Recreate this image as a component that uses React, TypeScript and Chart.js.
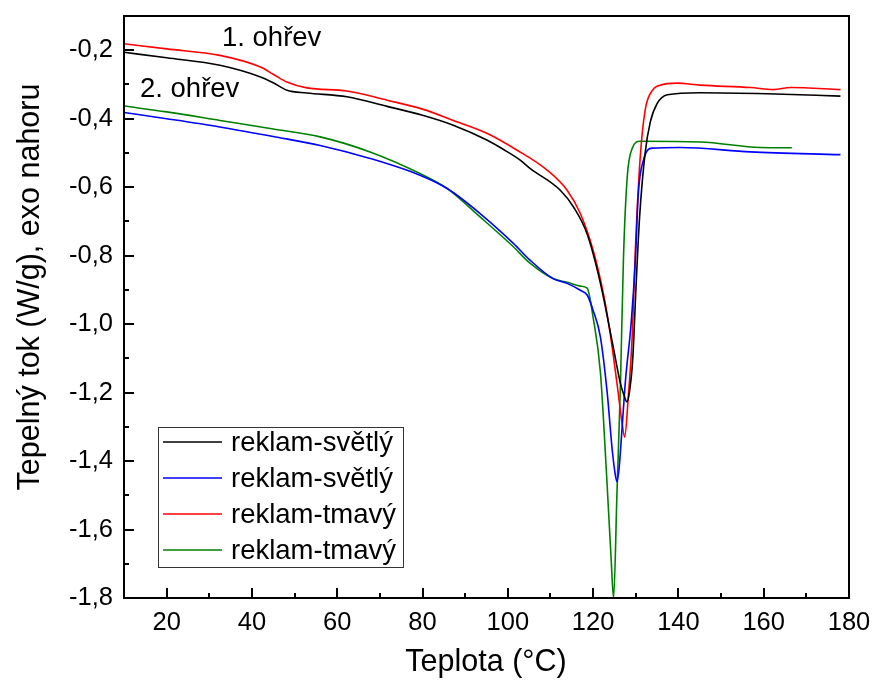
import React, { useEffect, useRef } from 'react';
import { Chart, registerables } from 'chart.js';
Chart.register(...registerables);

const SERIES_LABELS = ['reklam-světlý', 'reklam-světlý', 'reklam-tmavý', 'reklam-tmavý'];
const SERIES_COLORS = ['#000000', '#0000ff', '#ff0000', '#008000'];

// 1. ohřev, reklam-světlý (black)
const BLACK_X = [10, 20, 32.5, 42, 45, 48.2, 52.9, 62.3, 71.7, 80, 87.2, 95.2, 99, 102.9, 105.2, 112.3, 115.4, 118.6, 121.7, 124.7, 126.4, 127.3, 127.9, 128.5, 129.3, 130.1, 130.9, 132.2, 133.4, 135, 137.4, 145, 160.8, 178];
const BLACK_Y = [-0.206, -0.222, -0.244, -0.278, -0.295, -0.317, -0.325, -0.336, -0.364, -0.39, -0.419, -0.463, -0.49, -0.521, -0.545, -0.609, -0.658, -0.737, -0.88, -1.066, -1.173, -1.21, -1.227, -1.2, -1.1, -0.88, -0.687, -0.5, -0.41, -0.356, -0.33, -0.324, -0.327, -0.334];

// 2. ohřev, reklam-světlý (blue)
const BLUE_X = [10, 20, 32.5, 45, 56, 67.7, 79.4, 85.8, 93.5, 101.3, 105.2, 110.6, 113.9, 117, 118.6, 120, 121.7, 123.3, 124.5, 125.2, 125.6, 126.1, 126.7, 127.6, 128.9, 129.9, 130.6, 131.8, 133.9, 140.4, 156.9, 178];
const BLUE_Y = [-0.382, -0.4, -0.424, -0.452, -0.478, -0.516, -0.565, -0.604, -0.677, -0.764, -0.813, -0.867, -0.881, -0.901, -0.915, -0.96, -1.037, -1.2, -1.37, -1.44, -1.46, -1.42, -1.32, -1.163, -1.0, -0.814, -0.618, -0.521, -0.486, -0.484, -0.497, -0.505];

// 1. ohřev, reklam-tmavý (red)
const RED_X = [10, 20, 32.5, 42, 45, 48.2, 52.9, 62.3, 71.7, 80, 87.2, 95.2, 102.2, 109.2, 113.9, 117, 120, 122.4, 124, 125.6, 126.8, 127.4, 128.2, 129.2, 129.9, 131, 132.2, 133.9, 135.7, 139.7, 145.1, 156.9, 162.3, 166.3, 178];
const RED_Y = [-0.181, -0.196, -0.215, -0.249, -0.27, -0.293, -0.31, -0.319, -0.346, -0.372, -0.405, -0.443, -0.492, -0.55, -0.609, -0.677, -0.784, -0.91, -1.027, -1.173, -1.29, -1.33, -1.22, -1.027, -0.784, -0.521, -0.375, -0.317, -0.302, -0.296, -0.302, -0.309, -0.315, -0.309, -0.315];

// 2. ohřev, reklam-tmavý (green)
const GREEN_X = [10, 20, 32.5, 45, 56, 67.7, 79.4, 85.8, 93.5, 101.3, 105.2, 110.6, 113.9, 117, 118.6, 120, 121.7, 123.2, 124.2, 124.8, 125.6, 126.4, 127.1, 128, 129.2, 131, 145.1, 159.2, 166.6];
const GREEN_Y = [-0.363, -0.38, -0.405, -0.43, -0.453, -0.497, -0.56, -0.604, -0.687, -0.774, -0.822, -0.867, -0.878, -0.889, -0.895, -0.98, -1.14, -1.45, -1.68, -1.8, -1.49, -1.18, -0.814, -0.57, -0.486, -0.466, -0.468, -0.484, -0.485];

const X_MIN = 10;
const X_MAX = 180;
const Y_MIN = -1.8;
const Y_MAX = -0.1;
const X_MAJOR_TICKS = [20, 40, 60, 80, 100, 120, 140, 160, 180];
const X_MINOR_TICKS = [10, 30, 50, 70, 90, 110, 130, 150, 170];
const Y_MAJOR_TICKS = [-1.8, -1.6, -1.4, -1.2, -1.0, -0.8, -0.6, -0.4, -0.2];
const Y_MINOR_TICKS = [-1.7, -1.5, -1.3, -1.1, -0.9, -0.7, -0.5, -0.3, -0.1];
const X_TITLE = 'Teplota (°C)';
const Y_TITLE = 'Tepelný tok (W/g), exo nahoru';
const ANNOTATIONS = ['1. ohřev', '2. ohřev'];

const FONT = '"Liberation Sans", Arial, sans-serif';

const zip = (xs: number[], ys: number[]) => xs.map((x, i) => ({ x, y: ys[i] }));

const framePlugin = {
  id: 'frame',
  afterDraw(chart: any) {
    const ctx = chart.ctx as CanvasRenderingContext2D;
    const { left, right, top, bottom } = chart.chartArea;
    const xs = chart.scales.x;
    const ys = chart.scales.y;
    ctx.save();
    ctx.strokeStyle = '#000';
    ctx.fillStyle = '#000';
    ctx.lineWidth = 2;
    ctx.strokeRect(left, top, right - left, bottom - top);
    // ticks
    ctx.beginPath();
    X_MAJOR_TICKS.forEach((v) => {
      const px = Math.round(xs.getPixelForValue(v));
      ctx.moveTo(px, bottom);
      ctx.lineTo(px, bottom - 10);
    });
    X_MINOR_TICKS.forEach((v) => {
      const px = Math.round(xs.getPixelForValue(v));
      ctx.moveTo(px, bottom);
      ctx.lineTo(px, bottom - 5);
    });
    Y_MAJOR_TICKS.forEach((v) => {
      const py = Math.round(ys.getPixelForValue(v));
      ctx.moveTo(left, py);
      ctx.lineTo(left + 10, py);
    });
    Y_MINOR_TICKS.forEach((v) => {
      const py = Math.round(ys.getPixelForValue(v));
      ctx.moveTo(left, py);
      ctx.lineTo(left + 5, py);
    });
    ctx.stroke();

    // tick labels
    ctx.font = `25.5px ${FONT}`;
    ctx.textAlign = 'center';
    ctx.textBaseline = 'middle';
    X_MAJOR_TICKS.forEach((v) => {
      ctx.fillText(String(v), xs.getPixelForValue(v), bottom + 25);
    });
    ctx.textAlign = 'right';
    Y_MAJOR_TICKS.forEach((v) => {
      ctx.fillText(v.toFixed(1).replace('.', ','), left - 11, ys.getPixelForValue(v));
    });

    // titles
    ctx.font = `30.5px ${FONT}`;
    ctx.textAlign = 'center';
    ctx.fillText(X_TITLE, 486, bottom + 65);
    ctx.save();
    ctx.translate(31, 287);
    ctx.rotate(-Math.PI / 2);
    ctx.fillText(Y_TITLE, 0, 0);
    ctx.restore();

    // annotations
    ctx.font = `27.5px ${FONT}`;
    ctx.textAlign = 'left';
    ctx.fillText(ANNOTATIONS[0], 222, 38);
    ctx.fillText(ANNOTATIONS[1], 140, 89);

    // legend
    ctx.lineWidth = 1;
    ctx.strokeStyle = '#333';
    ctx.strokeRect(158.5, 427.5, 245, 140);
    const rows = [442, 478, 514, 550];
    SERIES_LABELS.forEach((lab, i) => {
      ctx.strokeStyle = SERIES_COLORS[i];
      ctx.lineWidth = 1.5;
      ctx.beginPath();
      ctx.moveTo(163, rows[i]);
      ctx.lineTo(222, rows[i]);
      ctx.stroke();
      ctx.fillStyle = '#000';
      ctx.fillText(lab, 231, rows[i] + 1);
    });
    ctx.restore();
  },
};

export default function App() {
  const ref = useRef<HTMLCanvasElement | null>(null);
  useEffect(() => {
    document.body.style.margin = '0';
    if (!ref.current) return;
    const mk = (label: string, xs: number[], ys: number[], color: string) => ({
      label,
      data: zip(xs, ys),
      borderColor: color,
      backgroundColor: color,
      borderWidth: 1.6,
      pointRadius: 0,
      fill: false,
      cubicInterpolationMode: 'monotone' as const,
    });
    const chart = new Chart(ref.current, {
      type: 'line',
      data: {
        datasets: [
          mk(SERIES_LABELS[0], BLACK_X, BLACK_Y, SERIES_COLORS[0]),
          mk(SERIES_LABELS[1], BLUE_X, BLUE_Y, SERIES_COLORS[1]),
          mk(SERIES_LABELS[2], RED_X, RED_Y, SERIES_COLORS[2]),
          mk(SERIES_LABELS[3], GREEN_X, GREEN_Y, SERIES_COLORS[3]),
        ],
      },
      options: {
        animation: false,
        responsive: false,
        devicePixelRatio: 1,
        parsing: true,
        layout: { padding: { left: 124, top: 16, right: 23, bottom: 84 } },
        plugins: { legend: { display: false }, tooltip: { enabled: false } },
        scales: {
          x: { type: 'linear', min: X_MIN, max: X_MAX, display: false },
          y: { type: 'linear', min: Y_MIN, max: Y_MAX, display: false },
        },
      },
      plugins: [framePlugin],
    });
    return () => chart.destroy();
  }, []);
  return (
    <div style={{ position: 'absolute', left: 0, top: 0, width: 872, height: 682, background: '#fff' }}>
      <canvas ref={ref} width={872} height={682} style={{ display: 'block' }} />
    </div>
  );
}
